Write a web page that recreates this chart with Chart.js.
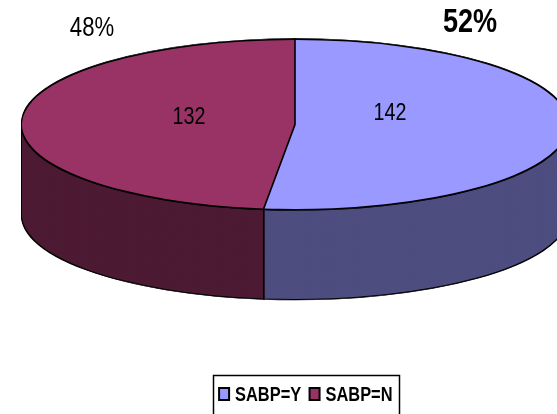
<!DOCTYPE html>
<html>
<head>
<meta charset="utf-8">
<style>
  html, body { margin: 0; background: #fff; }
  canvas { display: block; }
</style>
</head>
<body>
<canvas id="myChart" width="557" height="414"></canvas>
<script src="https://cdn.jsdelivr.net/npm/chart.js@4/dist/chart.umd.min.js"></script>
<script>
const categorias = ["SABP=Y", "SABP=N"];
const valores = [142, 132];
const porcentajes = ["52%", "48%"];
const coloresTapa = ["#9999FF", "#993366"];
const coloresLado = ["#4D4D80", "#4D1A33"];

const FUENTE = '"Liberation Sans", Arial, sans-serif';
const centroX = 295;
const centroY = 124.5;
const radio = 273;
const aplastado = 84.5 / 273;
const alto = 90;

// copia del arco con otro color, para no tocar las opciones del grafico
function pintarArco(ctx, arco, color, borde) {
  const copia = Object.create(arco);
  copia.options = Object.assign({}, arco.options, {
    backgroundColor: color,
    borderColor: color,
    borderWidth: borde
  });
  copia.draw(ctx);
}

function enElipse(ctx, arco, dy, fn) {
  ctx.save();
  ctx.translate(centroX, centroY + dy);
  ctx.scale(1, aplastado);
  ctx.translate(-arco.x, -arco.y);
  fn();
  ctx.restore();
}

// no hay fuente narrow instalada, se angosta el texto a mano
function texto(ctx, str, x, y, fuente, align) {
  ctx.save();
  ctx.translate(x, y);
  ctx.scale(0.82, 1);
  ctx.font = fuente;
  ctx.textAlign = align || "center";
  ctx.textBaseline = "middle";
  ctx.fillStyle = "#000";
  ctx.fillText(str, 0, 0);
  ctx.restore();
}

const pastel3d = {
  id: "pastel3d",
  // el dibujo normal se reemplaza por la version aplastada con lado
  beforeDatasetsDraw(chart) {
    const ctx = chart.ctx;
    const arcos = chart.getDatasetMeta(0).data;

    // silueta negra
    arcos.forEach((arco) => {
      for (let d = 0; d <= alto + 1; d += 3) {
        enElipse(ctx, arco, d, () => pintarArco(ctx, arco, "#000", 2));
      }
      enElipse(ctx, arco, alto + 1, () => pintarArco(ctx, arco, "#000", 2));
    });
    // lados: primero el granate, el azul queda encima
    [1, 0].forEach((i) => {
      for (let d = alto; d >= 1; d -= 3) {
        enElipse(ctx, arcos[i], d, () => pintarArco(ctx, arcos[i], coloresLado[i], 0));
      }
    });
    // borde de la tapa
    arcos.forEach((arco) => {
      [-1.5, 1.5].forEach((d) => {
        enElipse(ctx, arco, d, () => pintarArco(ctx, arco, "#000", 2));
      });
    });
    arcos.forEach((arco, i) => {
      enElipse(ctx, arco, 0, () => pintarArco(ctx, arco, coloresTapa[i], 0));
    });
    // lineas entre rebanadas, sacadas del angulo de cada arco
    const corte = arcos[0].endAngle;
    const bordeX = centroX + radio * Math.cos(corte);
    const bordeY = centroY + radio * aplastado * Math.sin(corte);
    ctx.save();
    ctx.strokeStyle = "#000";
    ctx.lineWidth = 1.6;
    ctx.beginPath();
    ctx.moveTo(centroX, centroY - radio * aplastado);
    ctx.lineTo(centroX, centroY);
    ctx.lineTo(bordeX, bordeY);
    ctx.lineTo(bordeX, bordeY + alto);
    ctx.stroke();
    ctx.restore();
    return false;
  },
  afterDraw(chart) {
    const ctx = chart.ctx;
    texto(ctx, porcentajes[0], 470, 23, "bold 33px " + FUENTE);
    texto(ctx, porcentajes[1], 92, 29, "27px " + FUENTE);
    texto(ctx, String(valores[0]), 390, 113, "24px " + FUENTE);
    texto(ctx, String(valores[1]), 189, 117, "24px " + FUENTE);

    // marco de la leyenda, corta abajo con el borde de la imagen
    ctx.save();
    ctx.strokeStyle = "#000";
    ctx.lineWidth = 1.5;
    ctx.strokeRect(213.5, 375.5, 186, 60);
    ctx.restore();

    // texto de la leyenda en las cajas que calcula chart.js
    const ley = chart.legend;
    ley.legendHitBoxes.forEach((caja, i) => {
      texto(ctx, categorias[i], caja.left + 16, caja.top + caja.height / 2 + 1, "bold 20px " + FUENTE, "left");
    });
  }
};

new Chart(document.getElementById("myChart"), {
  type: "pie",
  data: {
    labels: categorias,
    datasets: [{
      data: valores,
      backgroundColor: coloresTapa,
      borderColor: "#000",
      borderWidth: 2
    }]
  },
  options: {
    responsive: false,
    animation: false,
    radius: radio,
    layout: { padding: { left: 55, bottom: 2 } },
    plugins: {
      tooltip: { enabled: false },
      legend: {
        position: "bottom",
        labels: {
          boxWidth: 10,
          boxHeight: 12,
          padding: 8,
          color: "rgba(0,0,0,0)",
          font: { family: FUENTE, size: 16, weight: "bold" }
        }
      }
    }
  },
  plugins: [pastel3d]
});
</script>
</body>
</html>
